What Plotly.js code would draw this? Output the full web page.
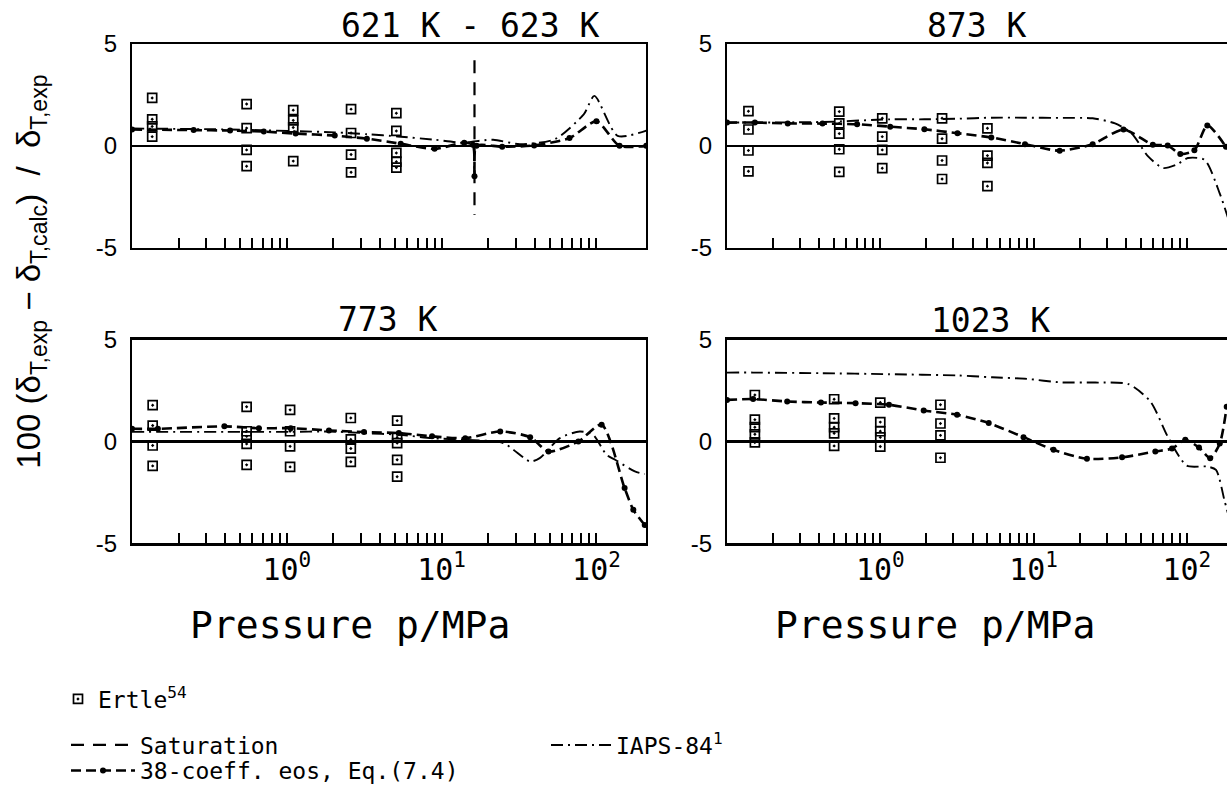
<!DOCTYPE html>
<html><head><meta charset="utf-8">
<script src="https://cdn.plot.ly/plotly-3.0.1.min.js"></script>
<style>html,body{margin:0;padding:0;background:#fff;overflow:hidden}#chart{width:1227px;height:792px}</style>
</head><body><div id="chart"></div>
<script>
// ---------------- data (pressure in MPa, deviation in %) ----------------
const minorTickPressures = [0.2,0.3,0.4,0.5,0.6,0.7,0.8,0.9,2,3,4,5,6,7,8,9,20,30,40,50,60,70,80,90];
const majorTickPressures = [1,10,100];
const majorTickLabels = ['10<sup>0</sup>','10<sup>1</sup>','10<sup>2</sup>'];
const yTickValues = [-5,0,5];
const yTickLabels = ['-5','0','5'];
const panelTitles = ['621 K - 623 K','873 K','773 K','1023 K'];
const xAxisTitle = 'Pressure p/MPa';
const yAxisTitle = '100\u00a0(δ<sub>T,exp</sub>\u00a0−\u00a0δ<sub>T,calc</sub>)\u00a0\u00a0/\u00a0\u00a0δ<sub>T,exp</sub>';

// 621 K - 623 K
const ertleP_621 = [0.135,0.135,0.135,0.135, 0.55,0.55,0.55,0.55, 1.1,1.1,1.1,1.1, 2.6,2.6,2.6,2.6, 5.1,5.1,5.1,5.1,5.1];
const ertleD_621 = [2.35,1.3,0.95,0.45, 2.05,0.87,-0.2,-1.0, 1.75,1.25,0.9,-0.75, 1.8,0.63,-0.43,-1.3, 1.6,0.73,-0.35,-0.78,-1.07];
const eosP_621 = [0.1,0.25,0.43,0.71,1.14,2.04,3.29,5.44,9.0,14.0,15.9,16.3,16.8,24.6,39.6,67,100,141,210];
const eosD_621 = [0.8,0.77,0.75,0.7,0.6,0.5,0.35,0.1,-0.15,0.15,0.05,-1.5,0.0,-0.05,0.02,0.38,1.2,0.0,0.0];
const iapsP_621 = [0.1,0.43,1.14,2.04,3.3,5.2,9.0,13.5,21.5,32,54,83,97,137,210];
const iapsD_621 = [0.85,0.8,0.72,0.66,0.57,0.46,0.3,0.16,0.3,0.08,0.33,1.56,2.45,0.49,0.75];
const saturationP_621 = [16.3,16.3];
const saturationD_621 = [4.2,-3.4];

// 873 K
const ertleP_873 = [0.138,0.138,0.138,0.138, 0.54,0.54,0.54,0.54,0.54, 1.03,1.03,1.03,1.03, 2.53,2.53,2.53,2.53, 5.0,5.0,5.0,5.0];
const ertleD_873 = [1.7,0.8,-0.23,-1.25, 1.68,1.1,0.6,-0.17,-1.28, 1.35,0.45,-0.2,-1.1, 1.35,0.35,-0.72,-1.63, 0.86,-0.48,-0.84,-1.98];
const eosP_873 = [0.1,0.152,0.249,0.42,0.706,1.16,1.94,3.19,5.3,8.79,14.8,24.3,38.6,60,75,90.6,112,136,180];
const eosD_873 = [1.14,1.14,1.1,1.09,1.06,0.94,0.81,0.62,0.41,0.08,-0.24,0.08,0.8,0.05,0.02,-0.4,-0.22,1.0,-0.05];
const iapsP_873 = [0.1,0.42,1.16,1.94,3.19,5.3,8.79,14.8,24.3,34,43.5,55.9,69.9,85.4,101.7,130.6,163.6,185];
const iapsD_873 = [1.14,1.17,1.3,1.3,1.33,1.38,1.38,1.37,1.35,1.1,0.62,-0.52,-1.09,-0.93,-0.6,-0.69,-2.32,-3.5];

// 773 K
const ertleP_773 = [0.136,0.136,0.136,0.136, 0.55,0.55,0.55,0.55,0.55, 1.05,1.05,1.05,1.05, 2.59,2.59,2.59,2.59, 5.16,5.16,5.16,5.16,5.16];
const ertleD_773 = [1.78,0.78,-0.2,-1.2, 1.7,0.5,0.25,-0.12,-1.15, 1.55,0.5,-0.24,-1.25, 1.15,0.1,-0.35,-1.0, 1.02,0.2,-0.08,-0.9,-1.73];
const eosP_773 = [0.1,0.147,0.395,0.66,1.06,1.87,3.15,5.29,8.67,14.2,23.9,37.3,49,76.4,108,152,173,205];
const eosD_773 = [0.62,0.62,0.74,0.65,0.65,0.54,0.46,0.41,0.25,0.16,0.49,0.21,-0.49,0.0,0.82,-2.29,-3.35,-4.1];
const iapsP_773 = [0.1,0.4,1.06,1.87,3.15,5.29,8.67,14.2,25,37.3,43,58,78,95,116,132,177,205];
const iapsD_773 = [0.47,0.47,0.47,0.49,0.41,0.33,0.16,0.08,-0.08,-0.98,-0.82,0.16,0.49,0.33,-0.65,-0.9,-1.47,-1.6];

// 1023 K
const ertleP_1023 = [0.152,0.152,0.152,0.152,0.152, 0.5,0.5,0.5,0.5,0.5, 1.0,1.0,1.0,1.0,1.0, 2.47,2.47,2.47,2.47];
const ertleD_1023 = [2.28,1.07,0.7,0.35,-0.05, 2.07,1.13,0.7,0.4,-0.22, 1.91,0.95,0.5,0.2,-0.25, 1.8,0.88,0.3,-0.8];
const eosP_1023 = [0.1,0.148,0.247,0.41,0.69,1.14,1.92,3.17,5.1,8.6,13.5,22.3,37.8,62.3,80,97.7,120,142,164,182];
const eosD_1023 = [2.04,2.08,1.96,1.91,1.88,1.8,1.52,1.31,0.9,0.21,-0.41,-0.85,-0.78,-0.49,-0.35,0.08,-0.3,-0.82,-0.1,1.7];
const iapsP_1023 = [0.1,0.148,0.41,1.14,3.17,5.36,9.07,15,25.3,41.7,57.8,76,100,135,155,176,185];
const iapsD_1023 = [3.38,3.38,3.35,3.3,3.24,3.15,3.07,2.9,2.89,2.81,1.96,0.16,-1.19,-1.23,-1.4,-2.9,-3.5];

// ---------------- styling & layout ----------------
const W = 1227, H = 792;
const PLOTTER = '"DejaVu Sans Mono", "Liberation Mono", monospace';
const SANS = '"Liberation Sans", Arial, sans-serif';
const fx = p => p / W;
const fy = p => 1 - p / H;

const sets = [
  {ax:'', ertleP:ertleP_621, ertleD:ertleD_621, eosP:eosP_621, eosD:eosD_621, iapsP:iapsP_621, iapsD:iapsD_621, first:true},
  {ax:'2', ertleP:ertleP_873, ertleD:ertleD_873, eosP:eosP_873, eosD:eosD_873, iapsP:iapsP_873, iapsD:iapsD_873},
  {ax:'3', ertleP:ertleP_773, ertleD:ertleD_773, eosP:eosP_773, eosD:eosD_773, iapsP:iapsP_773, iapsD:iapsD_773},
  {ax:'4', ertleP:ertleP_1023, ertleD:ertleD_1023, eosP:eosP_1023, eosD:eosD_1023, iapsP:iapsP_1023, iapsD:iapsD_1023}
];

const eosLine = {color:'black', width:2.6, dash:'10px,5px', shape:'spline', smoothing:0.7};
const iapsLine = {color:'black', width:1.9, dash:'12px,5px,2px,5px', shape:'spline', smoothing:0.7};
const satLine = {color:'black', width:2.2, dash:'13px,9px'};

const traces = [];
sets.forEach(s => {
  const xa = 'x' + s.ax, ya = 'y' + s.ax;
  traces.push({type:'scatter', mode:'lines', x:s.iapsP, y:s.iapsD, xaxis:xa, yaxis:ya,
    name:'IAPS-84<sup>1</sup>', legend:'legend4', legendgroup:'iaps', showlegend:!!s.first,
    line:iapsLine, hoverinfo:'skip'});
  traces.push({type:'scatter', mode:'lines+markers', x:s.eosP, y:s.eosD, xaxis:xa, yaxis:ya,
    name:'38-coeff. eos, Eq.(7.4)', legend:'legend3', legendgroup:'eos', showlegend:!!s.first,
    line:eosLine, marker:{color:'black', size:6, symbol:'circle'}, hoverinfo:'skip'});
  traces.push({type:'scatter', mode:'markers', x:s.ertleP, y:s.ertleD, xaxis:xa, yaxis:ya,
    name:'Ertle<sup>54</sup>', legend:'legend', legendgroup:'ertle', showlegend:!!s.first,
    marker:{symbol:'square-open-dot', size:9, color:'black', line:{width:1.7, color:'black'}}, hoverinfo:'skip'});
});
traces.push({type:'scatter', mode:'lines', x:saturationP_621, y:saturationD_621, xaxis:'x', yaxis:'y',
  name:'Saturation', legend:'legend2', legendgroup:'sat', showlegend:true, line:satLine, hoverinfo:'skip'});

function xAxis(domain, range, labels, anchor) {
  return {type:'log', domain:domain, range:range, anchor:anchor, showgrid:false, zeroline:false,
    showline:true, mirror:true, linecolor:'black', linewidth:2.2,
    ticks:'inside', ticklen:10, tickwidth:2, tickcolor:'black',
    tickmode:'array', tickvals:majorTickPressures, ticktext:majorTickLabels,
    showticklabels:labels, ticklabelstandoff:-2,
    minor:{tickmode:'array', tickvals:minorTickPressures, ticks:'inside', ticklen:10, tickwidth:2, tickcolor:'black', showgrid:false},
    tickfont:{family:PLOTTER, size:30, color:'black'}, fixedrange:true};
}
function yAxis(domain, anchor, mirror) {
  return {domain:domain, anchor:anchor, range:[-5,5], showgrid:false,
    zeroline:true, zerolinecolor:'black', zerolinewidth:2.2,
    showline:true, mirror:mirror, linecolor:'black', linewidth:2.2,
    ticks:'', tickmode:'array', tickvals:yTickValues, ticktext:yTickLabels,
    ticklabelstandoff:8,
    tickfont:{family:SANS, size:24, color:'black'}, fixedrange:true};
}

const dLeft = [fx(132), fx(646)], dRight = [fx(727), 1];
const rLeft = [-1, 2.32], rRight = [-1, 2.262];
const dTop = [fy(248), fy(44)], dBot = [fy(544), fy(340)];

function ann(text, x, y, size, family, extra) {
  return Object.assign({text:text, x:fx(x), y:fy(y), xref:'paper', yref:'paper', showarrow:false,
    xanchor:'center', yanchor:'middle', font:{family:family, size:size, color:'black'}}, extra || {});
}

const legendBase = {bgcolor:'rgba(0,0,0,0)', borderwidth:0, xanchor:'left', yanchor:'middle',
  font:{family:PLOTTER, size:23, color:'black'}, itemwidth:64, orientation:'v', itemclick:false, itemdoubleclick:false};

const layout = {
  width:W, height:H, margin:{l:0, r:0, t:0, b:0},
  paper_bgcolor:'white', plot_bgcolor:'white', showlegend:true,
  xaxis:xAxis(dLeft, rLeft, false, 'y'), yaxis:yAxis(dTop, 'x', true),
  xaxis2:xAxis(dRight, rRight, false, 'y2'), yaxis2:yAxis(dTop, 'x2', false),
  xaxis3:xAxis(dLeft, rLeft, true, 'y3'), yaxis3:yAxis(dBot, 'x3', true),
  xaxis4:xAxis(dRight, rRight, true, 'y4'), yaxis4:yAxis(dBot, 'x4', false),
  legend:Object.assign({}, legendBase, {x:fx(58), y:fy(699), itemwidth:30}),
  legend2:Object.assign({}, legendBase, {x:fx(66), y:fy(745)}),
  legend3:Object.assign({}, legendBase, {x:fx(66), y:fy(771)}),
  legend4:Object.assign({}, legendBase, {x:fx(546), y:fy(745), itemwidth:60}),
  annotations:[
    ann(panelTitles[0], 470, 26, 33, PLOTTER),
    ann(panelTitles[1], 977, 26, 33, PLOTTER),
    ann(panelTitles[2], 387, 320, 33, PLOTTER),
    ann(panelTitles[3], 990, 321, 33, PLOTTER),
    ann(xAxisTitle, 350, 626, 38, PLOTTER),
    ann(xAxisTitle, 935, 626, 38, PLOTTER),
    ann(yAxisTitle, 31, 272, 33, SANS, {textangle:-90})
  ]
};

Plotly.newPlot('chart', traces, layout, {staticPlot:true, displayModeBar:false});
</script>
</body></html>
